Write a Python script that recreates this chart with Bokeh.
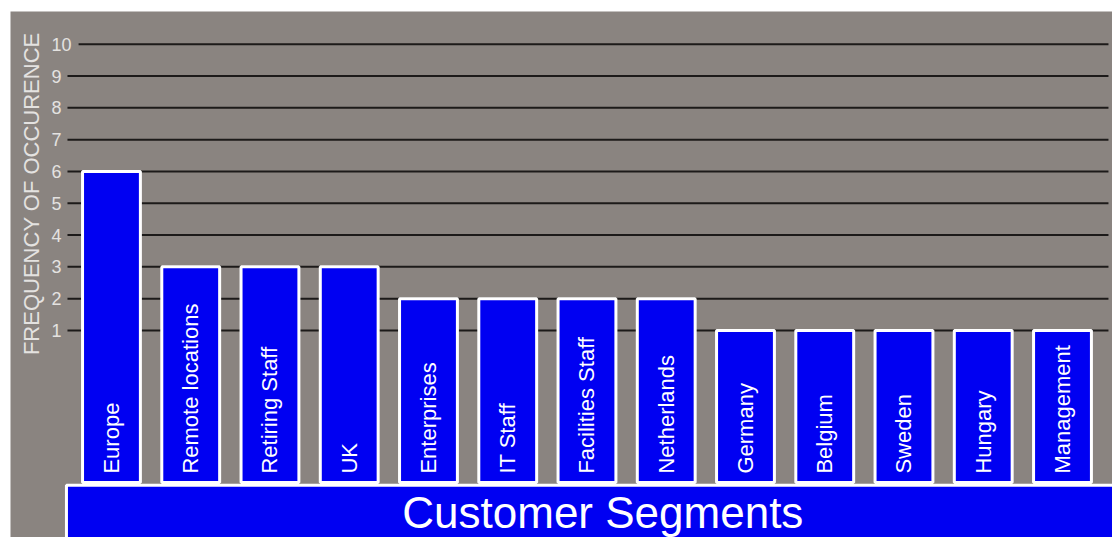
import numpy as np
from bokeh.plotting import figure
from bokeh.models import Range1d, ColumnDataSource
from bokeh.core.properties import value
from bokeh.embed import file_html
from bokeh.resources import INLINE

# ---- data ----
categories = ["Europe", "Remote locations", "Retiring Staff", "UK", "Enterprises",
              "IT Staff", "Facilities Staff", "Netherlands", "Germany", "Belgium",
              "Sweden", "Hungary", "Management"]
frequency = [6, 3, 3, 3, 2, 2, 2, 2, 1, 1, 1, 1, 1]
y_ticks = [1, 2, 3, 4, 5, 6, 7, 8, 9, 10]
y_title = "FREQUENCY OF OCCURENCE"
x_title = "Customer Segments"

# ---- styles ----
BG = "#8a8480"
BLUE = "#0000f2"
FONT = value("Liberation Sans")
BAR_BASE = -3.78

p = figure(width=1112, height=537, output_backend="svg", toolbar_location=None,
           x_range=Range1d(-1.274, 12.631), y_range=Range1d(-5.51, 11.03),
           x_axis_location=None, y_axis_location=None,
           min_border_left=10, min_border_top=11, min_border_right=0, min_border_bottom=0)
p.border_fill_color = "white"
p.background_fill_color = BG
p.outline_line_color = None
p.grid.visible = False

xs = np.arange(len(categories))

# gridlines (start just right of each tick label)
grid_x0 = [-0.555 if len(str(t)) == 1 else -0.415 for t in y_ticks]
grid_x1 = [12.58] * len(y_ticks)
p.segment(x0=grid_x0, y0=y_ticks, x1=grid_x1, y1=y_ticks, line_color="#1c1a19", line_width=2)

# tick labels
p.text(x=[-0.757] * len(y_ticks), y=y_ticks, text=[str(t) for t in y_ticks],
       text_font=FONT, text_font_size="18px", text_color="#e4e2e0",
       text_align="left", text_baseline="middle")

# y title
p.text(x=[-1.009], y=[5.30], text=[y_title], angle=np.pi / 2,
       text_font=FONT, text_font_size="22px", text_color="#e4e2e0",
       text_align="center", text_baseline="middle")

# bars
src = ColumnDataSource(dict(x=xs, top=frequency, cat=categories))
p.vbar(x="x", top="top", bottom=BAR_BASE, width=0.73, source=src,
       fill_color=BLUE, line_color="white", line_width=3)

# labels inside bars
p.text(x="x", y=-3.50, text="cat", source=src, angle=np.pi / 2,
       text_font=FONT, text_font_size="22px", text_color="white",
       text_align="left", text_baseline="middle")

# bottom category box
p.quad(left=[-0.568], right=[13.5], top=[-3.87], bottom=[-7.0],
       fill_color=BLUE, line_color="white", line_width=3)
p.text(x=[6.2], y=[-4.72], text=[x_title], text_font=FONT, text_font_size="44px",
       text_color="white", text_align="center", text_baseline="middle")

open("out.html", "w").write(file_html(p, INLINE))
